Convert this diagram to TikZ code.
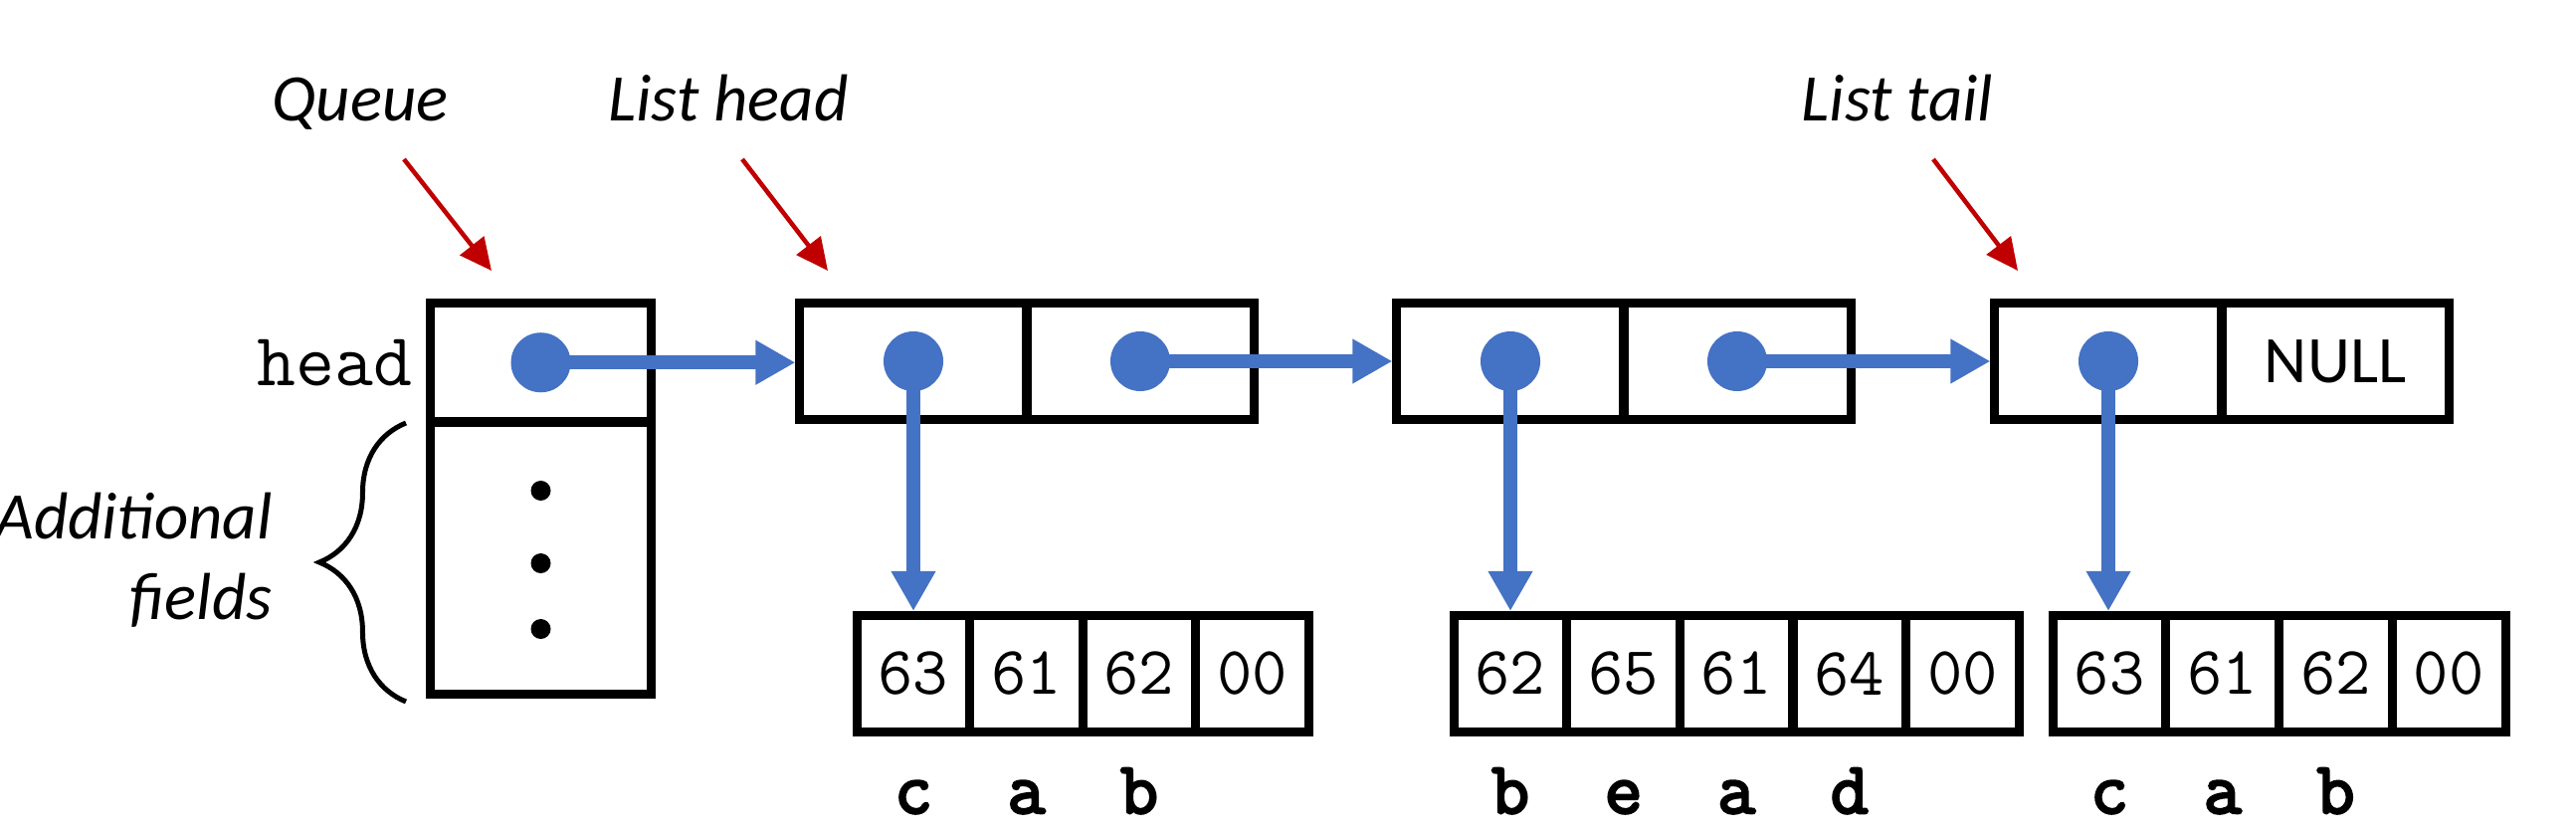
\documentclass[tikz,border=0pt]{standalone}
\usepackage{fontspec}
\setmainfont{Carlito}
\newfontfamily\ttbold{Latin Modern Mono}[FakeBold=3.5]
\usetikzlibrary{arrows.meta,decorations.pathreplacing}
\definecolor{ptrblue}{HTML}{4472C4}
\definecolor{lblred}{HTML}{C00000}
\begin{document}
\begin{tikzpicture}[x=0.01cm,y=-0.01cm,
  cell/.style={draw=black,line width=0.09cm,minimum width=2.28cm,minimum height=1.17cm,inner sep=0,outer sep=0,font=\fontsize{19}{19}\selectfont},
  scell/.style={draw=black,line width=0.09cm,minimum width=1.136cm,minimum height=1.17cm,inner sep=0,outer sep=0,font=\ttfamily\fontsize{19.5}{19.5}\selectfont},
  ptr/.style={ptrblue,line width=0.14cm,shorten >=0.045cm,-{Triangle[length=0.40cm,width=0.42cm]}},
  dot/.style={circle,fill=ptrblue,minimum size=0.6cm,inner sep=0,outer sep=0},
  bdot/.style={circle,fill=black,minimum size=0.2cm,inner sep=0,outer sep=0},
  lbl/.style={font=\itshape\fontsize{19}{23}\selectfont},
  redarrow/.style={lblred,line width=0.045cm,-{Triangle[length=0.32cm,width=0.30cm]}},
  chr/.style={font=\ttbold\fontsize{21}{21}\selectfont,anchor=base},
]
\useasboundingbox (0,0) rectangle (2589,837);

% queue structure
\node[cell,minimum width=2.22cm,minimum height=1.195cm] (q) at (543.5,364.25) {};
\node[cell,minimum width=2.22cm,minimum height=2.735cm] (qf) at (543.5,560.75) {};
\node[bdot] (qd1) at (543.5,493) {};
\node[bdot] (qd2) at (543.5,566) {};
\node[bdot] (qd3) at (543.5,632) {};
\node[font=\ttfamily\fontsize{21.5}{21.5}\selectfont,anchor=east] (headlbl) at ([xshift=-0.06cm]q.west) {head};

% brace and label
\coordinate (brb) at (408,705);
\coordinate (brt) at (408,425);
\draw[decorate,decoration={brace,amplitude=0.87cm},line width=0.05cm] (brb) -- (brt);
\node[lbl,align=right,anchor=east] (addl) at (286,563) {Additional\\fields};

% list nodes
\node[cell] (n1a) at (918,363) {};
\node[cell] (n1b) at (1146,363) {};
\node[cell] (n2a) at (1518,363) {};
\node[cell] (n2b) at (1746,363) {};
\node[cell] (n3a) at (2119,363) {};
\node[cell] (n3b) at (2347,363) {NULL};

% strings
\foreach \t [count=\i from 1] in {63,61,62,00}
  \node[scell] (s1-\i) at ({918+(\i-1)*113.5},677) {\t};
\foreach \t [count=\i from 1] in {62,65,61,64,00}
  \node[scell] (s2-\i) at ({1518+(\i-1)*113.6},677) {\t};
\foreach \t [count=\i from 1] in {63,61,62,00}
  \node[scell] (s3-\i) at ({2120+(\i-1)*113.75},677) {\t};

\foreach \c [count=\i from 1] in {c,a,b}
  \node[chr] (l1-\i) at ([yshift=-1.40cm]s1-\i.center) {\c};
\foreach \c [count=\i from 1] in {b,e,a,d}
  \node[chr] (l2-\i) at ([yshift=-1.40cm]s2-\i.center) {\c};
\foreach \c [count=\i from 1] in {c,a,b}
  \node[chr] (l3-\i) at ([yshift=-1.40cm]s3-\i.center) {\c};

% pointers
\draw[ptr] (q.center) -- (q.center -| n1a.west);
\draw[ptr] (n1b.center) -- (n2a.west);
\draw[ptr] (n2b.center) -- (n3a.west);
\draw[ptr] (n1a.center) -- (n1a.center |- s1-1.north);
\draw[ptr] (n2a.center) -- (n2a.center |- s2-1.north);
\draw[ptr] (n3a.center) -- (n3a.center |- s3-1.north);

\node[dot] (dq) at (q.center) {};
\node[dot] (d1a) at (n1a.center) {};
\node[dot] (d1b) at (n1b.center) {};
\node[dot] (d2a) at (n2a.center) {};
\node[dot] (d2b) at (n2b.center) {};
\node[dot] (d3a) at (n3a.center) {};

% labels with red arrows
\node[lbl,anchor=base] (queue) at (362,122) {Queue};
\node[lbl,anchor=base] (lhead) at (732,122) {List head};
\node[lbl,anchor=base] (ltail) at (1907,122) {List tail};
\coordinate (qa1) at (406,160);
\coordinate (qa2) at (494,272);
\coordinate (ha1) at (746,160);
\coordinate (ha2) at (832,272);
\coordinate (ta1) at (1943,160);
\coordinate (ta2) at (2028,272);
\draw[redarrow] (qa1) -- (qa2);
\draw[redarrow] (ha1) -- (ha2);
\draw[redarrow] (ta1) -- (ta2);
\end{tikzpicture}
\end{document}
